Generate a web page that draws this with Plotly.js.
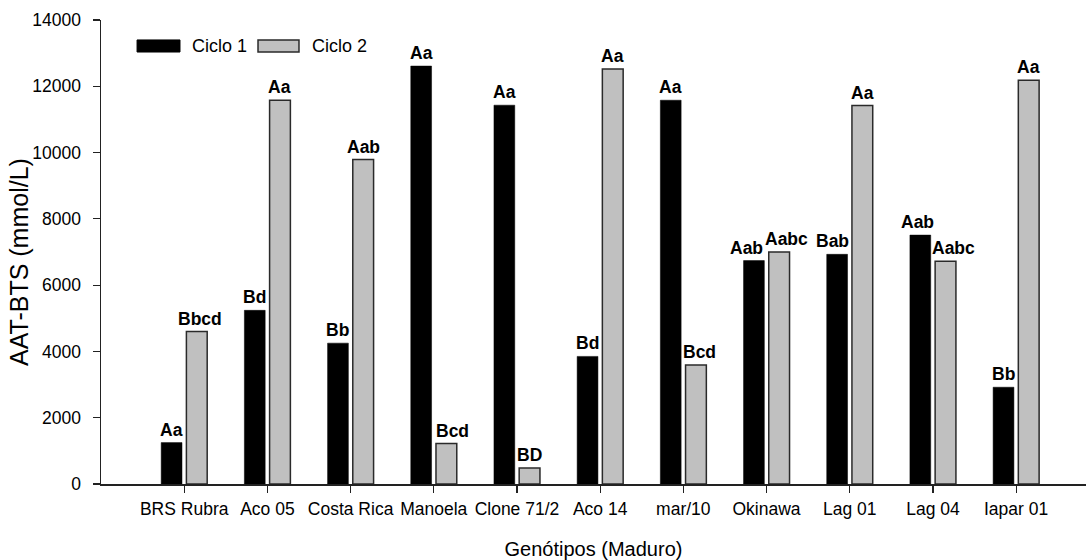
<!DOCTYPE html>
<html>
<head>
<meta charset="utf-8">
<script src="https://cdn.plot.ly/plotly-3.0.1.min.js"></script>
<style>html,body{margin:0;padding:0;background:#fff;}#chart{width:1086px;height:560px;}</style>
</head>
<body>
<div id="chart"></div>
<script>
const categories = ['BRS Rubra','Aco 05','Costa Rica','Manoela','Clone 71/2','Aco 14','mar/10','Okinawa','Lag 01','Lag 04','Iapar 01'];
const seriesNames = ['Ciclo 1','Ciclo 2'];
const ciclo1 = [1250, 5240, 4250, 12610, 11430, 3850, 11580, 6740, 6930, 7510, 2920];
const ciclo2 = [4600, 11580, 9790, 1220, 480, 12520, 3590, 7000, 11420, 6720, 12180];
const labels1 = ['Aa','Bd','Bb','Aa','Aa','Bd','Aa','Aab','Bab','Aab','Bb'];
const labels2 = ['Bbcd','Aa','Aab','Bcd','BD','Aa','Bcd','Aabc','Aa','Aabc','Aa'];
const yTicks = [0,2000,4000,6000,8000,10000,12000,14000];
// small horizontal nudges (px) of the letter labels, as placed in the original
const nudge1 = [0,0,0,0,0,0,0,-7,-5,-3,0];
const nudge2 = [3,0,0,6,0,0,4,7,0,8,0];

const FONT = 'Liberation Sans, Arial, sans-serif';
const BARGAP = 0.394;
const half = (1 - BARGAP) / 4;

const traces = [
  {type:'bar', name: seriesNames[0], x: categories, y: ciclo1,
   marker:{color:'#000', line:{color:'#000', width:0.5}}, hoverinfo:'x+y'},
  {type:'bar', name: seriesNames[1], x: categories, y: ciclo2,
   marker:{color:'#c0c0c0', line:{color:'#2a2a2a', width:1.5}}, hoverinfo:'x+y'}
];

const annotations = [];
[[ciclo1, labels1, nudge1, -half], [ciclo2, labels2, nudge2, half]].forEach(([vals, labs, nud, off]) => {
  vals.forEach((v, i) => {
    annotations.push({x: i + off, y: v, xref:'x', yref:'y', text:'<b>' + labs[i] + '</b>',
      showarrow:false, xanchor:'center', yanchor:'bottom', xshift: nud[i], yshift: 1,
      font:{family:FONT, size:17.5, color:'#000'}});
  });
});
annotations.push(
  {xref:'paper', yref:'paper', x:0.0904, y:0.944, xanchor:'left', yanchor:'middle',
   text: seriesNames[0], showarrow:false, font:{family:FONT, size:18, color:'#000'}},
  {xref:'paper', yref:'paper', x:0.2122, y:0.944, xanchor:'left', yanchor:'middle',
   text: seriesNames[1], showarrow:false, font:{family:FONT, size:18, color:'#000'}},
  {xref:'paper', yref:'paper', x:0, y:0.5, xshift:-82, yshift:-10, textangle:-90,
   xanchor:'center', yanchor:'middle', text:'AAT-BTS (mmol/L)', showarrow:false,
   font:{family:FONT, size:25, color:'#000'}}
);

const layout = {
  width:1086, height:560,
  margin:{l:101, r:0, t:20, b:76, pad:0},
  paper_bgcolor:'#fff', plot_bgcolor:'#fff',
  showlegend:false,
  barmode:'group', bargap:BARGAP, bargroupgap:0.175,
  font:{family:FONT, size:17.5, color:'#000'},
  xaxis:{
    type:'category', range:[-1, 10.84], fixedrange:true,
    showline:true, linecolor:'#222', linewidth:1.5,
    ticks:'outside', ticklen:7, tickwidth:1.2, tickcolor:'#222',
    showgrid:false, zeroline:false,
    tickfont:{family:FONT, size:17.5, color:'#000'},
    ticklabelstandoff:1,
    title:{text:'Genótipos (Maduro)', font:{family:FONT, size:20, color:'#000'}, standoff:25},
    automargin:false
  },
  yaxis:{
    range:[0,14000], tickvals:yTicks, ticktext:yTicks.map(String), fixedrange:true,
    showline:true, linecolor:'#222', linewidth:1.5,
    ticks:'outside', ticklen:7, tickwidth:1.2, tickcolor:'#222',
    showgrid:false, zeroline:false,
    tickfont:{family:FONT, size:17.5, color:'#000'},
    ticklabelstandoff:8,
    automargin:false
  },
  shapes:[
    {type:'line', xref:'paper', yref:'paper', x0:-0.0071, x1:0, y0:0, y1:0,
     line:{color:'#222', width:1.5}},
    {type:'rect', xref:'paper', yref:'paper', x0:0.0366, x1:0.0802, y0:0.931, y1:0.957,
     fillcolor:'#000', line:{color:'#000', width:1}},
    {type:'rect', xref:'paper', yref:'paper', x0:0.1594, x1:0.2010, y0:0.931, y1:0.957,
     fillcolor:'#c0c0c0', line:{color:'#2a2a2a', width:1.5}}
  ],
  annotations: annotations
};

Plotly.newPlot('chart', traces, layout, {displayModeBar:false, staticPlot:true});
</script>
</body>
</html>
